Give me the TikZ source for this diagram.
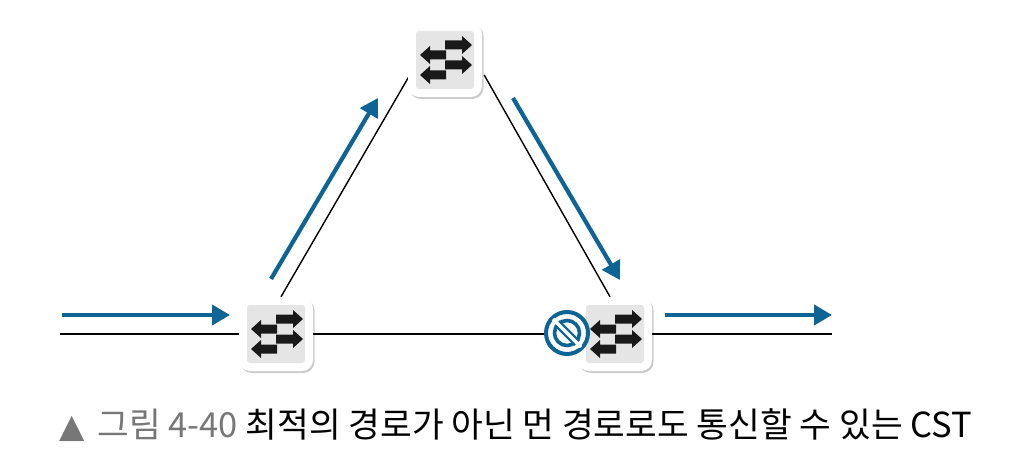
\documentclass[tikz,border=0pt]{standalone}
\usepackage{fontspec}
\setmainfont{Noto Sans CJK KR}
\newfontfamily\symfont{DejaVu Sans}
\usetikzlibrary{shadows,arrows.meta,calc,backgrounds}
\definecolor{netblue}{HTML}{0F6496}
\definecolor{capgray}{HTML}{777777}
\tikzset{
  x=1pt,y=-1pt,
  switchbox/.style={draw=none,fill=white,rounded corners=11pt,minimum size=74pt,inner sep=0pt,
    drop shadow={shadow xshift=1.5pt,shadow yshift=-2pt,opacity=.2,fill=black}},
  switchface/.style={draw=none,fill=black!10,rounded corners=3pt,minimum size=58pt,inner sep=0pt},
  wire/.style={draw=black,line width=1.4pt},
  flow/.style={draw=netblue,line width=4.2pt,-{Triangle[length=18pt,width=20pt]}},
  blockring/.style={circle,draw=netblue,line width=4pt,fill=white,minimum size=42pt,inner sep=0pt},
  caption/.style={inner sep=0pt,font=\fontsize{34.5pt}{38pt}\selectfont}
}
\newcommand{\switchnode}[3]{%
  \node[switchbox] (#1) at (#2,#3) {};
  \node[switchface] (#1face) at (#1.center) {};
  \begin{scope}[shift={(#1.center)}]
    \foreach \yy in {-15,5}{\fill[black!90] (0,\yy-4.5)--(17,\yy-4.5)--(17,\yy-9)--(27,\yy)--(17,\yy+9)--(17,\yy+4.5)--(0,\yy+4.5)--cycle;}
    \foreach \yy in {-5,15}{\fill[black!90] (1,\yy-4.5)--(-15,\yy-4.5)--(-15,\yy-9)--(-25,\yy)--(-15,\yy+9)--(-15,\yy+4.5)--(1,\yy+4.5)--cycle;}
  \end{scope}}
\begin{document}
\begin{tikzpicture}
\useasboundingbox (0,0) rectangle (1033,473);
\switchnode{swtop}{445}{60}
\switchnode{swleft}{276}{334}
\switchnode{swright}{615}{334}
\coordinate (inl) at (60,334);
\coordinate (outr) at (832,334);
\begin{scope}[on background layer]
\fill[white] (0,0) rectangle (1033,473);
\draw[wire] (inl) -- (swleft);
\draw[wire] (swleft) -- (swright);
\draw[wire] (swright) -- (outr);
\draw[wire] ($(swleft.north)+(5,0)$) -- ($(swtop.west)+(2,15)$);
\draw[wire] ($(swtop.east)+(2,15)$) -- ($(swright.north)+(-5,0)$);
\end{scope}
\node[blockring] (block) at (567,333) {};
\begin{scope}[shift={(block.center)}]
  \draw[netblue,line width=3.6pt] (0,0) circle (12.5pt);
  \draw[netblue,line width=8pt] (-10,-10) -- (10,10);
  \draw[white,line width=3.4pt] (-14,-14) -- (14,14);
\end{scope}
\coordinate (f1a) at (62,315); \coordinate (f1b) at (230,315);
\coordinate (f2a) at (271,279); \coordinate (f2b) at (378,98);
\coordinate (f3a) at (513,98); \coordinate (f3b) at (620,280);
\coordinate (f4a) at (665,315); \coordinate (f4b) at (832,315);
\draw[flow] (f1a) -- (f1b);
\draw[flow] (f2a) -- (f2b);
\draw[flow] (f3a) -- (f3b);
\draw[flow] (f4a) -- (f4b);
\node[caption,anchor=base west] (cap) at (59,437) {{\color{capgray}{\symfont\fontsize{33pt}{34pt}\selectfont ▲}\hspace{5pt} 그림 4-40} 최적의 경로가 아닌 먼 경로로도 통신할 수 있는 CST};
\end{tikzpicture}
\end{document}
